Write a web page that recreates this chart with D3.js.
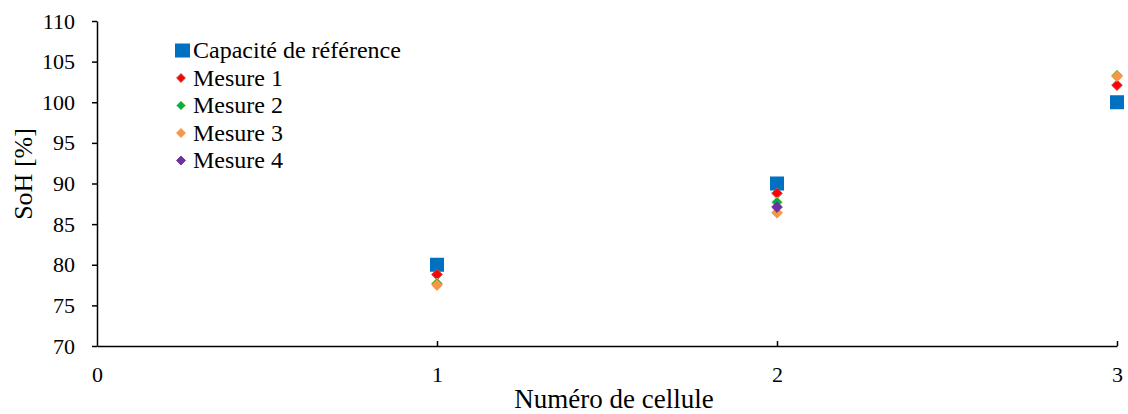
<!DOCTYPE html>
<html><head><meta charset="utf-8">
<script src="https://cdn.jsdelivr.net/npm/d3@7"></script>
<style>body{margin:0;background:#fff}svg{display:block}</style>
</head><body><svg id="c" width="1128" height="414"></svg>
<script>
const cells = [1, 2, 3];
const xTicks = [0, 1, 2, 3];
const yTicks = [70, 75, 80, 85, 90, 95, 100, 105, 110];
const refCapacity = [80, 90, 100];
const mesure1 = [78.8, 88.8, 102.1];
const mesure2 = [77.7, 87.7, 103.3];
const mesure3 = [77.5, 86.4, 103.2];
const mesure4 = [null, 87.1, null];
const seriesNames = ["Capacité de référence", "Mesure 1", "Mesure 2", "Mesure 3", "Mesure 4"];
const seriesColors = ["#0070C0", "#FF0000", "#00B050", "#F79646", "#7030A0"];
const seriesStroke = ["#0070C0", "#C0504D", "#92D050", "#F79646", "#7030A0"];

const FONT = "Liberation Serif";
const svg = d3.select("#c");
const x = d3.scaleLinear().domain([0, 3]).range([97, 1117]);
const y = d3.scaleLinear().domain([70, 110]).range([346, 21]);

const yAxis = svg.append("g").attr("transform", `translate(${x(0)},0)`)
  .call(d3.axisLeft(y).tickValues(yTicks).tickFormat(d3.format("d")).tickSize(5).tickSizeOuter(0).tickPadding(17));
yAxis.attr("font-family", FONT).attr("font-size", 22);
yAxis.selectAll("text").attr("font-family", FONT).attr("font-size", 22).attr("fill", "#000");
yAxis.selectAll("line,path").attr("stroke", "#000").attr("stroke-width", 1.5);

const xAxis = svg.append("g").attr("transform", `translate(0,${y(70)})`)
  .call(d3.axisBottom(x).tickValues(xTicks).tickFormat(d3.format("d")).tickSize(-5).tickSizeOuter(0).tickPadding(20));
xAxis.attr("font-family", FONT).attr("font-size", 22);
xAxis.selectAll("text").attr("font-family", FONT).attr("font-size", 22).attr("fill", "#000");
xAxis.selectAll("line,path").attr("stroke", "#000").attr("stroke-width", 1.5);
xAxis.selectAll(".tick").filter(d => d === 0).select("line").remove();

svg.append("text").attr("x", 614).attr("y", 408).attr("text-anchor", "middle")
  .attr("font-family", FONT).attr("font-size", 27).text("Numéro de cellule");
svg.append("text").attr("transform", `translate(32,174) rotate(-90)`).attr("text-anchor", "middle")
  .attr("font-family", FONT).attr("font-size", 26).text("SoH [%]");

const allSeries = [refCapacity, mesure1, mesure2, mesure3, mesure4];
const diamond = d3.symbol().type(d3.symbolDiamond2).size(72);
allSeries.forEach((vals, si) => {
  const pts = cells.map((c, i) => ({c, v: vals[i]})).filter(d => d.v != null);
  const g = svg.append("g");
  if (si === 0) {
    g.selectAll("rect").data(pts).join("rect")
      .attr("x", d => x(d.c) - 7).attr("y", d => y(d.v) - 7)
      .attr("width", 14).attr("height", 14).attr("fill", seriesColors[si]);
  } else {
    g.selectAll("path").data(pts).join("path")
      .attr("transform", d => `translate(${x(d.c)},${y(d.v)})`)
      .attr("d", diamond).attr("fill", seriesColors[si])
      .attr("stroke", seriesStroke[si]).attr("stroke-width", 1);
  }
});

const leg = svg.append("g");
seriesNames.forEach((name, i) => {
  const cy = 50.5 + i * 27.5;
  if (i === 0) {
    leg.append("rect").attr("x", 175).attr("y", cy - 7).attr("width", 15).attr("height", 14).attr("fill", seriesColors[0]);
  } else {
    leg.append("path").attr("transform", `translate(181,${cy})`)
      .attr("d", d3.symbol().type(d3.symbolDiamond2).size(50))
      .attr("fill", seriesColors[i]).attr("stroke", seriesStroke[i]);
  }
  leg.append("text").attr("x", 193).attr("y", cy + 7.5)
    .attr("font-family", FONT).attr("font-size", 24).text(name);
});
</script></body></html>
